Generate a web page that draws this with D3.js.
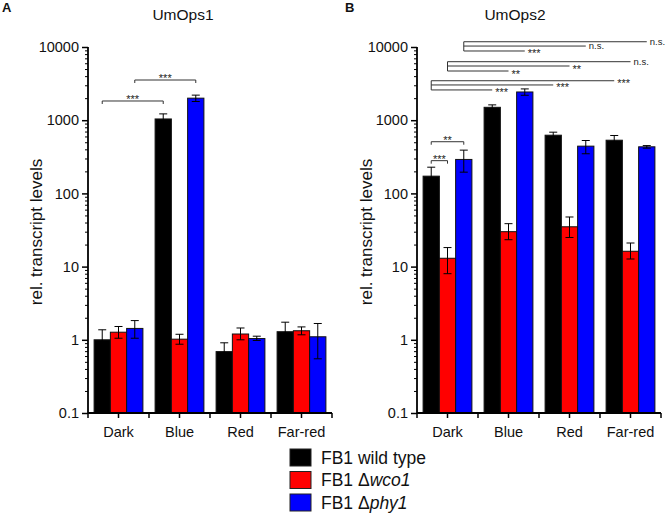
<!DOCTYPE html>
<html><head><meta charset="utf-8">
<script src="https://cdn.jsdelivr.net/npm/d3@7"></script>
<style>
html,body{margin:0;padding:0;background:#fff;}
text{font-family:"Liberation Sans",Arial,sans-serif;}
</style></head>
<body>
<svg id="chart" width="666" height="517"></svg>
<script>
// ---------- data ----------
const categories = ["Dark", "Blue", "Red", "Far-red"];
const seriesNames = ["FB1 wild type", "FB1 \u0394wco1", "FB1 \u0394phy1"];
const seriesColors = ["#000000", "#ff0000", "#0000ff"];
const yTickLabels = ["0.1", "1", "10", "100", "1000", "10000"];
const yTickValues = [0.1, 1, 10, 100, 1000, 10000];

// UmOps1 (panel A)
const ops1WT     = [1.0, 1040, 0.69, 1.29];
const ops1WTlo   = [0.65, 870, 0.46, 0.95];
const ops1WThi   = [1.37, 1220, 0.91, 1.74];
const ops1Wco    = [1.27, 1.02, 1.2, 1.33];
const ops1WcoLo  = [1.05, 0.87, 1.0, 1.17];
const ops1WcoHi  = [1.52, 1.19, 1.45, 1.5];
const ops1Phy    = [1.43, 2000, 1.04, 1.1];
const ops1PhyLo  = [1.05, 1800, 0.98, 0.55];
const ops1PhyHi  = [1.83, 2200, 1.12, 1.67];

// UmOps2 (panel B)
const ops2WT     = [172, 1500, 624, 533];
const ops2WTlo   = [130, 1390, 565, 460];
const ops2WThi   = [228, 1620, 686, 618];
const ops2Wco    = [13, 30, 35, 16.2];
const ops2WcoLo  = [8.0, 23.3, 25, 12.7];
const ops2WcoHi  = [18.2, 38.6, 47.6, 21];
const ops2Phy    = [291, 2430, 442, 433];
const ops2PhyLo  = [195, 2190, 348, 415];
const ops2PhyHi  = [390, 2675, 528, 450];

// significance: [category, series] pairs, level in data units
const ops1Brackets = [
  {from: [0, 0], to: [1, 0], level: 1830, label: "***"},
  {from: [0, 2], to: [1, 2], level: 3540, label: "***"}
];
const ops2Brackets = [
  {from: [0, 0], to: [0, 2], level: 508, label: "**"},
  {from: [0, 0], to: [0, 1], level: 280, label: "***"}
];
const ops2Comparisons = [
  {src: [0, 2], targets: [[1, 2, 8820, "***"], [2, 2, 10300, "n.s."], [3, 2, 11800, "n.s."]]},
  {src: [0, 1], targets: [[1, 1, 4700, "**"], [2, 1, 5500, "**"], [3, 1, 6300, "n.s."]]},
  {src: [0, 0], targets: [[1, 0, 2590, "***"], [2, 0, 3030, "***"], [3, 0, 3460, "***"]]}
];

// ---------- drawing ----------
const svg = d3.select("#chart");

function buildRows(m, lo, hi) {
  return categories.map((cat, c) => ({cat, vals: [0,1,2].map(s => ({s, v: m[s][c], lo: lo[s][c], hi: hi[s][c]}))}));
}

const y = d3.scaleLog().domain([0.1, 10000]).range([413, 47]);

function panel(opt) {
  const g = svg.append("g");
  const x = d3.scaleBand().domain(categories).range([opt.x0, opt.x0 + 244]).paddingInner(0.2).paddingOuter(0.1);
  const xs = d3.scaleBand().domain([0,1,2]).range([0, x.bandwidth()]);
  const rows = buildRows(opt.m, opt.lo, opt.hi);
  const cx = (c, s) => x(categories[c]) + xs(s) + xs.bandwidth() / 2;

  // bars
  const grp = g.selectAll(".grp").data(rows).join("g").attr("transform", d => `translate(${x(d.cat)},0)`);
  grp.selectAll("rect").data(d => d.vals).join("rect")
    .attr("x", d => xs(d.s)).attr("width", xs.bandwidth())
    .attr("y", d => y(d.v)).attr("height", d => y(0.1) - y(d.v))
    .attr("fill", d => seriesColors[d.s]).attr("stroke", "#111").attr("stroke-width", 1);
  // error bars
  const eb = grp.selectAll(".eb").data(d => d.vals).join("g").attr("stroke", "#000").attr("stroke-width", 1);
  eb.append("line").attr("x1", d => xs(d.s) + xs.bandwidth()/2).attr("x2", d => xs(d.s) + xs.bandwidth()/2)
    .attr("y1", d => y(d.lo)).attr("y2", d => y(d.hi));
  eb.append("line").attr("x1", d => xs(d.s) + xs.bandwidth()/2 - 4).attr("x2", d => xs(d.s) + xs.bandwidth()/2 + 4)
    .attr("y1", d => y(d.hi)).attr("y2", d => y(d.hi));
  eb.append("line").attr("x1", d => xs(d.s) + xs.bandwidth()/2 - 4).attr("x2", d => xs(d.s) + xs.bandwidth()/2 + 4)
    .attr("y1", d => y(d.lo)).attr("y2", d => y(d.lo));

  // y axis: major
  const yAx = g.append("g").attr("transform", `translate(${opt.x0},0)`)
    .call(d3.axisLeft(y).tickValues(yTickValues).tickFormat((d, i) => yTickLabels[i]).tickSize(6).tickPadding(3));
  // minor ticks
  const minor = [];
  for (let e = -1; e < 4; e++) for (let k = 2; k <= 9; k++) minor.push(k * Math.pow(10, e));
  g.append("g").attr("transform", `translate(${opt.x0},0)`)
    .call(d3.axisLeft(y).tickValues(minor).tickFormat("").tickSize(3))
    .call(a => a.select(".domain").remove());
  // x axis
  const xAx = g.append("g").attr("transform", `translate(0,${y(0.1)})`)
    .call(d3.axisBottom(x).tickSize(5).tickPadding(9));
  const bounds = d3.range(5).map(i => opt.x0 + i * x.step());
  g.append("g").selectAll("line").data(bounds).join("line")
    .attr("x1", d => d).attr("x2", d => d).attr("y1", y(0.1)).attr("y2", y(0.1) + 5)
    .attr("stroke", "#000").attr("stroke-width", 1.5);
  [yAx, xAx].forEach(a => {
    a.selectAll("line").attr("stroke-width", 1.5);
    a.selectAll("text").attr("font-size", 14.5).attr("fill", "#111");
  });
  yAx.select(".domain").remove();
  xAx.select(".domain").remove();
  g.append("line").attr("x1", opt.x0).attr("x2", opt.x0).attr("y1", y(10000)).attr("y2", y(0.1) + 0.8)
    .attr("stroke", "#000").attr("stroke-width", 1.8);
  g.append("line").attr("x1", opt.x0).attr("x2", opt.x0 + 244).attr("y1", y(0.1)).attr("y2", y(0.1))
    .attr("stroke", "#000").attr("stroke-width", 1.8);

  // title / labels
  g.append("text").attr("x", opt.titleX).attr("y", 20).attr("text-anchor", "middle")
    .attr("font-size", 15.5).attr("fill", "#111").text(opt.title);
  g.append("text").attr("x", opt.letterX).attr("y", 12).attr("font-size", 13).attr("font-weight", "bold")
    .attr("fill", "#111").text(opt.letter);
  g.append("text").attr("transform", `translate(${opt.ylabX},232) rotate(-90)`).attr("text-anchor", "middle")
    .attr("font-size", 17).attr("fill", "#111").text("rel. transcript levels");

  // brackets
  const bk = g.append("g").attr("stroke", "#333").attr("stroke-width", 1).attr("fill", "none");
  opt.brackets.forEach(b => {
    const x1 = cx(b.from[0], b.from[1]), x2 = cx(b.to[0], b.to[1]), yy = y(b.level);
    bk.append("path").attr("d", `M${x1},${yy + 3}V${yy}H${x2}V${yy + 3}`);
    g.append("text").attr("x", (x1 + x2) / 2).attr("y", yy + 2).attr("text-anchor", "middle")
      .attr("font-size", 11).attr("fill", "#222").text(b.label);
  });
  (opt.comparisons || []).forEach(cmp => {
    const xs0 = cx(cmp.src[0], cmp.src[1]);
    const lv = cmp.targets.map(t => y(t[2]));
    bk.append("line").attr("x1", xs0).attr("x2", xs0).attr("y1", d3.min(lv)).attr("y2", d3.max(lv));
    cmp.targets.forEach(t => {
      const xe = cx(t[0], t[1]), yy = y(t[2]);
      bk.append("line").attr("x1", xs0).attr("x2", xe).attr("y1", yy).attr("y2", yy);
      const ns = t[3] === "n.s.";
      g.append("text").attr("x", xe + 3).attr("y", ns ? yy + 3 : yy + 6.5)
        .attr("font-size", ns ? 9.5 : 11).attr("fill", "#222").text(t[3]);
    });
  });
}

panel({x0: 88, title: "UmOps1", titleX: 183, letter: "A", letterX: 2, ylabX: 42,
  m: [ops1WT, ops1Wco, ops1Phy], lo: [ops1WTlo, ops1WcoLo, ops1PhyLo], hi: [ops1WThi, ops1WcoHi, ops1PhyHi],
  brackets: ops1Brackets});
panel({x0: 417, title: "UmOps2", titleX: 515, letter: "B", letterX: 345, ylabX: 372,
  m: [ops2WT, ops2Wco, ops2Phy], lo: [ops2WTlo, ops2WcoLo, ops2PhyLo], hi: [ops2WThi, ops2WcoHi, ops2PhyHi],
  brackets: ops2Brackets, comparisons: ops2Comparisons});

// legend
const lg = svg.append("g").attr("transform", "translate(290,449)");
const item = lg.selectAll("g").data(seriesNames).join("g").attr("transform", (d, i) => `translate(0,${i * 22.5})`);
item.append("rect").attr("width", 21).attr("height", 17).attr("fill", (d, i) => seriesColors[i])
  .attr("stroke", "#222").attr("stroke-width", 1);
const lt = item.append("text").attr("x", 31).attr("y", 14.5).attr("font-size", 17.5).attr("fill", "#111");
lt.each(function(d) {
  const t = d3.select(this);
  const m = d.match(/^(FB1 )(\u0394)?(.*)$/);
  if (m[2]) {
    t.append("tspan").text(m[1] + m[2]);
    t.append("tspan").attr("font-style", "italic").text(m[3]);
  } else t.text(d);
});
</script>
</body></html>
